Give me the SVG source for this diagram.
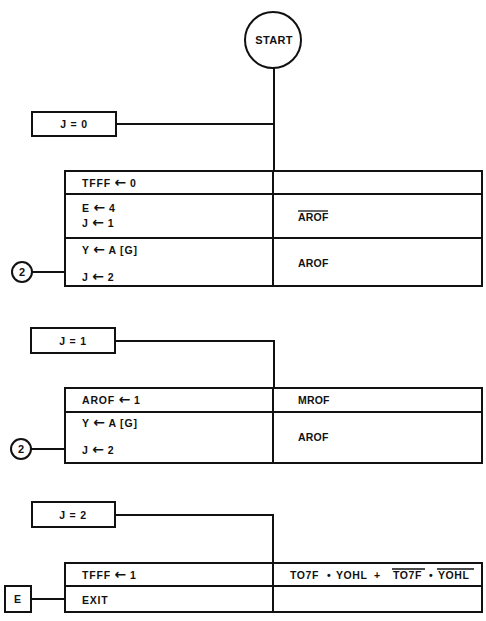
<svg xmlns="http://www.w3.org/2000/svg" width="486" height="621" viewBox="0 0 486 621">
<style>
.b{fill:#fff;stroke:#111;stroke-width:2}
.l{fill:none;stroke:#111;stroke-width:2}
.o{stroke:#111;stroke-width:1.3}
text{font-family:"Liberation Sans",Arial,sans-serif;font-weight:bold;font-size:10.5px;fill:#111;letter-spacing:0.8px}
.a{font-family:"DejaVu Sans",sans-serif;font-size:14px;letter-spacing:0}
.c{text-anchor:middle}
.s{font-size:11px;letter-spacing:0.3px}
.w{letter-spacing:0.6px}
.r{letter-spacing:0.2px}
</style>
<rect width="486" height="621" fill="#fff"/>
<g id="connectors">
<path class="l" d="M274 68V171"/>
<path class="l" d="M116 124H274"/>
<path class="l" d="M115 341H274V388"/>
<path class="l" d="M115 515H273V563"/>
<path class="l" d="M32 272H65"/>
<path class="l" d="M31 449H65"/>
<path class="l" d="M31 599H65"/>
</g>
<g id="start">
<circle class="b" cx="273" cy="40" r="28"/>
<text class="c s" x="274" y="44">START</text>
</g>
<g id="j0">
<rect class="b" x="32" y="112" width="84" height="24"/>
<text class="c" x="74" y="128">J = 0</text>
</g>
<g id="table1">
<rect class="b" x="65" y="171" width="417" height="115"/>
<path class="l" d="M65 194H482M65 238H482M273 171V286"/>
<text x="82" y="187">TFFF <tspan class="a">←</tspan> 0</text>
<text x="82" y="212">E <tspan class="a">←</tspan> 4</text>
<text x="82" y="227">J <tspan class="a">←</tspan> 1</text>
<text class="r" x="298" y="221">AROF</text>
<line class="o" x1="298" y1="211" x2="328" y2="211"/>
<text x="82" y="254">Y <tspan class="a">←</tspan> A [G]</text>
<text x="82" y="281">J <tspan class="a">←</tspan> 2</text>
<text class="r" x="298" y="267">AROF</text>
</g>
<g id="c2a">
<circle class="b" cx="22" cy="272" r="10"/>
<text class="c" x="22" y="276" style="letter-spacing:0;font-size:11px">2</text>
</g>
<g id="j1">
<rect class="b" x="31" y="328" width="84" height="25"/>
<text class="c" x="73" y="345">J = 1</text>
</g>
<g id="table2">
<rect class="b" x="65" y="388" width="417" height="75"/>
<path class="l" d="M65 412H482M273 388V463"/>
<text x="82" y="404">AROF <tspan class="a">←</tspan> 1</text>
<text class="r" x="298" y="404">MROF</text>
<text x="82" y="427">Y <tspan class="a">←</tspan> A [G]</text>
<text x="82" y="454">J <tspan class="a">←</tspan> 2</text>
<text class="r" x="298" y="441">AROF</text>
</g>
<g id="c2b">
<circle class="b" cx="21" cy="449" r="10"/>
<text class="c" x="21" y="453" style="letter-spacing:0;font-size:11px">2</text>
</g>
<g id="j2">
<rect class="b" x="32" y="502" width="83" height="25"/>
<text class="c" x="73" y="519">J = 2</text>
</g>
<g id="table3">
<rect class="b" x="65" y="563" width="417" height="49"/>
<path class="l" d="M65 586H482M273 563V612"/>
<text x="82" y="579">TFFF <tspan class="a">←</tspan> 1</text>
<text x="82" y="604">EXIT</text>
<text class="w" y="579"><tspan x="290">TO7F</tspan><tspan x="327">•</tspan><tspan x="336">YOHL</tspan><tspan x="374">+</tspan><tspan x="393">TO7F</tspan><tspan x="429">•</tspan><tspan x="438">YOHL</tspan></text>
<line class="o" x1="392" y1="569" x2="425" y2="569"/>
<line class="o" x1="437" y1="569" x2="474" y2="569"/>
</g>
<g id="e">
<rect class="b" x="5" y="586" width="26" height="26"/>
<text class="c" x="18" y="603">E</text>
</g>
</svg>
